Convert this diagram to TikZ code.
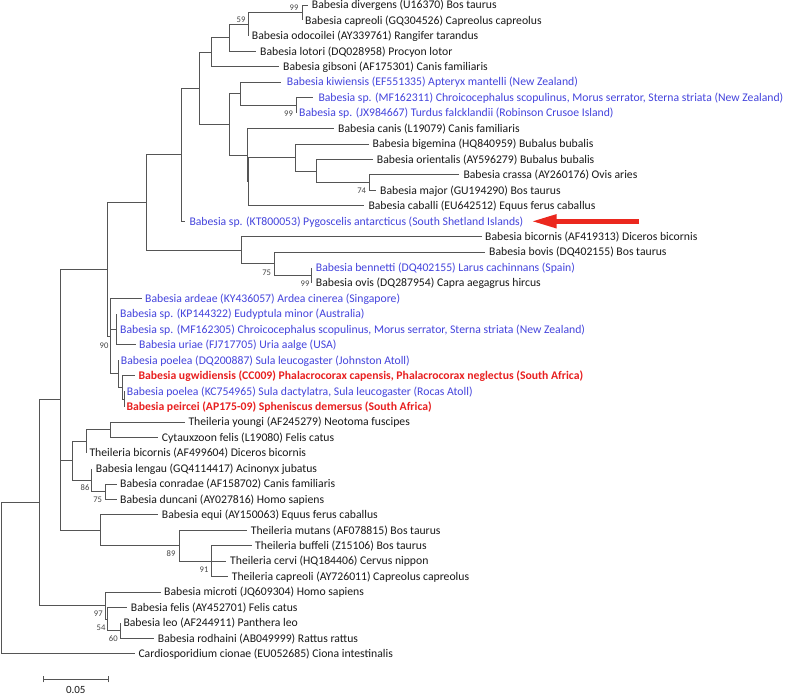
\documentclass[tikz,border=0pt]{standalone}
\usepackage{fontspec}
\setmainfont{Carlito}
\usetikzlibrary{arrows.meta}
\definecolor{txtblack}{RGB}{25,25,25}
\definecolor{birdblue}{RGB}{68,68,221}
\definecolor{newred}{RGB}{232,32,32}
\definecolor{arrowred}{RGB}{235,40,30}
\definecolor{branchgray}{RGB}{85,85,85}
\definecolor{bootgray}{RGB}{70,70,70}
\newcommand{\mkleaf}[7]{\coordinate (e#1) at (#3,#4); \node[lbl,#6] (t#1) at (#5,#4) {#7}; \draw[br] (#2) |- (e#1);}
\begin{document}
\begin{tikzpicture}[x=1pt,y=-1pt,
  br/.style={draw=branchgray,line width=0.9pt},
  lbl/.style={anchor=west,inner sep=0pt,text height=7.5pt,text depth=0pt,font=\fontsize{11.7}{14}\selectfont},
  blk/.style={text=txtblack},
  blu/.style={text=birdblue},
  rdb/.style={text=newred,font=\fontsize{11.7}{14}\selectfont\bfseries},
  boot/.style={inner sep=0pt,text=bootgray,font=\fontsize{8.6}{10}\selectfont}]
\useasboundingbox (0,0) rectangle (787,695);
\fill[white] (0,0) rectangle (787,695);
% internal nodes
\coordinate (root) at (1.7,578.3);
\coordinate (n39) at (39.3,502.7);
\coordinate (n60n) at (60,399.9);
\coordinate (n108) at (107.5,269.4);
\coordinate (n147) at (146.7,202.6);
\coordinate (n181) at (181.7,154.9);
\coordinate (n199) at (199.3,88.4);
\coordinate (n211) at (211.3,52.3);
\coordinate (n229a) at (229.3,37.8);
\coordinate (n59) at (248.3,24.3);
\coordinate (n99a) at (302.7,12.7);
\coordinate (nKC) at (229.3,124.5);
\coordinate (nkiwi) at (240,93.8);
\coordinate (n99b) at (296,105.4);
\coordinate (nA) at (247.3,155.2);
\coordinate (nB) at (248.5,181.7);
\coordinate (nbig) at (295,157.6);
\coordinate (nori) at (316.7,171.1);
\coordinate (n74) at (369.3,182.7);
\coordinate (n241) at (241,250.3);
\coordinate (n75a) at (274,263.8);
\coordinate (n99c) at (311.7,275.4);
\coordinate (n90) at (110.7,336.2);
\coordinate (nKP) at (116.7,329.45);
\coordinate (nP1) at (118,373.9);
\coordinate (nP2) at (122.5,387.4);
\coordinate (nP3) at (124.5,399);
\coordinate (n72) at (72.7,460.8);
\coordinate (n86b) at (86.7,441.5);
\coordinate (n110) at (110,429.9);
\coordinate (n86) at (91.7,480.1);
\coordinate (n75b) at (105,491.7);
\coordinate (nEq) at (100,530.3);
\coordinate (n89) at (179.3,545.75);
\coordinate (n91) at (211.7,561.2);
\coordinate (n97) at (105,605.6);
\coordinate (n54) at (107.3,619.1);
\coordinate (n60b) at (120.7,630.7);
% internal connectors
\draw[br] (root) |- (n39);
\draw[br] (n39) |- (n60n);
\draw[br] (n39) |- (n97);
\draw[br] (n60n) |- (n108);
\draw[br] (n60n) |- (n72);
\draw[br] (n60n) |- (nEq);
\draw[br] (n108) |- (n147);
\draw[br] (n108) |- (n90);
\draw[br] (n147) |- (n181);
\draw[br] (n147) |- (n241);
\draw[br] (n181) |- (n199);
\draw[br] (n199) |- (n211);
\draw[br] (n199) |- (nKC);
\draw[br] (n211) |- (n229a);
\draw[br] (n229a) |- (n59);
\draw[br] (n59) |- (n99a);
\draw[br] (nKC) |- (nkiwi);
\draw[br] (nKC) |- (nA);
\draw[br] (nkiwi) |- (n99b);
\draw[br] (nA) |- (nB);
\draw[br] (nB) |- (nbig);
\draw[br] (nbig) |- (nori);
\draw[br] (nori) |- (n74);
\draw[br] (n241) |- (n75a);
\draw[br] (n75a) |- (n99c);
\draw[br] (n90) |- (nKP);
\draw[br] (n90) |- (nP1);
\draw[br] (nP1) |- (nP2);
\draw[br] (nP2) |- (nP3);
\draw[br] (n72) |- (n86b);
\draw[br] (n72) |- (n86);
\draw[br] (n86b) |- (n110);
\draw[br] (n86) |- (n75b);
\draw[br] (nEq) |- (n89);
\draw[br] (n89) |- (n91);
\draw[br] (n97) |- (n54);
\draw[br] (n54) |- (n60b);
% leaves
\mkleaf{0}{n99a}{307.7}{5.0}{311.7}{blk}{Babesia divergens (U16370) Bos taurus}
\mkleaf{1}{n99a}{302.7}{20.45}{305}{blk}{Babesia capreoli (GQ304526) Capreolus capreolus}
\mkleaf{2}{n59}{248.3}{35.9}{251.7}{blk}{Babesia odocoilei (AY339761) Rangifer tarandus}
\mkleaf{3}{n229a}{256}{51.35}{260}{blk}{Babesia lotori (DQ028958) Procyon lotor}
\mkleaf{4}{n211}{279}{66.8}{283}{blk}{Babesia gibsoni (AF175301) Canis familiaris}
\mkleaf{5}{nkiwi}{281}{82.25}{286.7}{blu}{Babesia kiwiensis (EF551335) Apteryx mantelli (New Zealand)}
\mkleaf{6}{n99b}{313.3}{97.7}{318.3}{blu}{Babesia sp. (MF162311) Chroicocephalus scopulinus, Morus serrator, Sterna striata (New Zealand)}
\mkleaf{7}{n99b}{296}{113.15}{299}{blu}{Babesia sp. (JX984667) Turdus falcklandii (Robinson Crusoe Island)}
\mkleaf{8}{nA}{334}{128.6}{338}{blk}{Babesia canis (L19079) Canis familiaris}
\mkleaf{9}{nbig}{368.5}{144.05}{372.5}{blk}{Babesia bigemina (HQ840959) Bubalus bubalis}
\mkleaf{10}{nori}{372.7}{159.5}{376.7}{blk}{Babesia orientalis (AY596279) Bubalus bubalis}
\mkleaf{11}{n74}{459.3}{174.95}{463.3}{blk}{Babesia crassa (AY260176) Ovis aries}
\mkleaf{12}{n74}{376}{190.4}{380}{blk}{Babesia major (GU194290) Bos taurus}
\mkleaf{13}{nB}{364.3}{205.85}{368.3}{blk}{Babesia caballi (EU642512) Equus ferus caballus}
\mkleaf{14}{n181}{185.3}{221.3}{189.3}{blu}{Babesia sp. (KT800053) Pygoscelis antarcticus (South Shetland Islands)}
\mkleaf{15}{n241}{481.5}{236.75}{485}{blk}{Babesia bicornis (AF419313) Diceros bicornis}
\mkleaf{16}{n75a}{485}{252.2}{489}{blk}{Babesia bovis (DQ402155) Bos taurus}
\mkleaf{17}{n99c}{311.7}{267.65}{315.7}{blu}{Babesia bennetti (DQ402155) Larus cachinnans (Spain)}
\mkleaf{18}{n99c}{311.7}{283.1}{315.7}{blk}{Babesia ovis (DQ287954) Capra aegagrus hircus}
\mkleaf{19}{n90}{141.5}{298.55}{145}{blu}{Babesia ardeae (KY436057) Ardea cinerea (Singapore)}
\mkleaf{20}{nKP}{116.7}{314}{120}{blu}{Babesia sp. (KP144322) Eudyptula minor (Australia)}
\mkleaf{21}{nKP}{116.7}{329.45}{120}{blu}{Babesia sp. (MF162305) Chroicocephalus scopulinus, Morus serrator, Sterna striata (New Zealand)}
\mkleaf{22}{nKP}{135.5}{344.9}{139}{blu}{Babesia uriae (FJ717705) Uria aalge (USA)}
\mkleaf{23}{nP1}{118}{360.35}{120.7}{blu}{Babesia poelea (DQ200887) Sula leucogaster (Johnston Atoll)}
\mkleaf{24}{nP2}{134.5}{375.8}{138.3}{rdb}{Babesia ugwidiensis (CC009) Phalacrocorax capensis, Phalacrocorax neglectus (South Africa)}
\mkleaf{25}{nP3}{124.5}{391.25}{126.7}{blu}{Babesia poelea (KC754965) Sula dactylatra, Sula leucogaster (Rocas Atoll)}
\mkleaf{26}{nP3}{124.5}{406.7}{126.3}{rdb}{Babesia peircei (AP175-09) Spheniscus demersus (South Africa)}
\mkleaf{27}{n110}{184.8}{422.15}{188.3}{blk}{Theileria youngi (AF245279) Neotoma fuscipes}
\mkleaf{28}{n110}{158.2}{437.6}{161.7}{blk}{Cytauxzoon felis (L19080) Felis catus}
\mkleaf{29}{n86b}{86.7}{453.05}{89.3}{blk}{Theileria bicornis (AF499604) Diceros bicornis}
\mkleaf{30}{n86}{91.7}{468.5}{95.7}{blk}{Babesia lengau (GQ4114417) Acinonyx jubatus}
\mkleaf{31}{n75b}{116.5}{483.95}{120}{blk}{Babesia conradae (AF158702) Canis familiaris}
\mkleaf{32}{n75b}{116.5}{499.4}{120}{blk}{Babesia duncani (AY027816) Homo sapiens}
\mkleaf{33}{nEq}{158}{514.85}{161.7}{blk}{Babesia equi (AY150063) Equus ferus caballus}
\mkleaf{34}{n89}{246.7}{530.3}{250.7}{blk}{Theileria mutans (AF078815) Bos taurus}
\mkleaf{35}{n91}{251.5}{545.75}{255}{blk}{Theileria buffeli (Z15106) Bos taurus}
\mkleaf{36}{n91}{226.3}{561.2}{230}{blk}{Theileria cervi (HQ184406) Cervus nippon}
\mkleaf{37}{n91}{228}{576.65}{231.7}{blk}{Theileria capreoli (AY726011) Capreolus capreolus}
\mkleaf{38}{n97}{160.5}{592.1}{164}{blk}{Babesia microti (JQ609304) Homo sapiens}
\mkleaf{39}{n54}{127.2}{607.55}{130.7}{blk}{Babesia felis (AY452701) Felis catus}
\mkleaf{40}{n60b}{120.7}{623}{123.3}{blk}{Babesia leo (AF244911) Panthera leo}
\mkleaf{41}{n60b}{154.2}{638.45}{157.7}{blk}{Babesia rodhaini (AB049999) Rattus rattus}
\mkleaf{42}{root}{134.8}{653.9}{138.3}{blk}{Cardiosporidium cionae (EU052685) Ciona intestinalis}
% bootstrap values
\node[boot] (b99a) at (294,7.3) {99};
\node[boot] (b59) at (241,19.3) {59};
\node[boot] (b99b) at (288.5,113.5) {99};
\node[boot] (b74) at (361.7,191) {74};
\node[boot] (b75a) at (266.7,272.7) {75};
\node[boot] (b99c) at (305,283.5) {99};
\node[boot] (b90) at (104,346) {90};
\node[boot] (b86) at (85,488) {86};
\node[boot] (b75b) at (97.7,500) {75};
\node[boot] (b89) at (171,554) {89};
\node[boot] (b91) at (204,569.3) {91};
\node[boot] (b97) at (98.3,613.3) {97};
\node[boot] (b54) at (101,627.3) {54};
\node[boot] (b60) at (113.3,638.3) {60};
% scale bar
\coordinate (sbl) at (43.3,679.3);
\coordinate (sbr) at (108.3,679.3);
\draw[br] (sbl) -- (sbr);
\draw[br] ([yshift=-3pt]sbl) -- ([yshift=3pt]sbl);
\draw[br] ([yshift=-3pt]sbr) -- ([yshift=3pt]sbr);
\node[inner sep=0pt,text=txtblack,font=\fontsize{11}{13}\selectfont] (sblab) at (75.8,690) {0.05};
% arrow
\coordinate (arrtail) at (639,221.3);
\coordinate (arrtip) at (531.7,221.3);
\draw[arrowred,line width=4.6pt,-{Triangle[length=25pt,width=13pt]}] (arrtail) -- (arrtip);
\end{tikzpicture}
\end{document}
